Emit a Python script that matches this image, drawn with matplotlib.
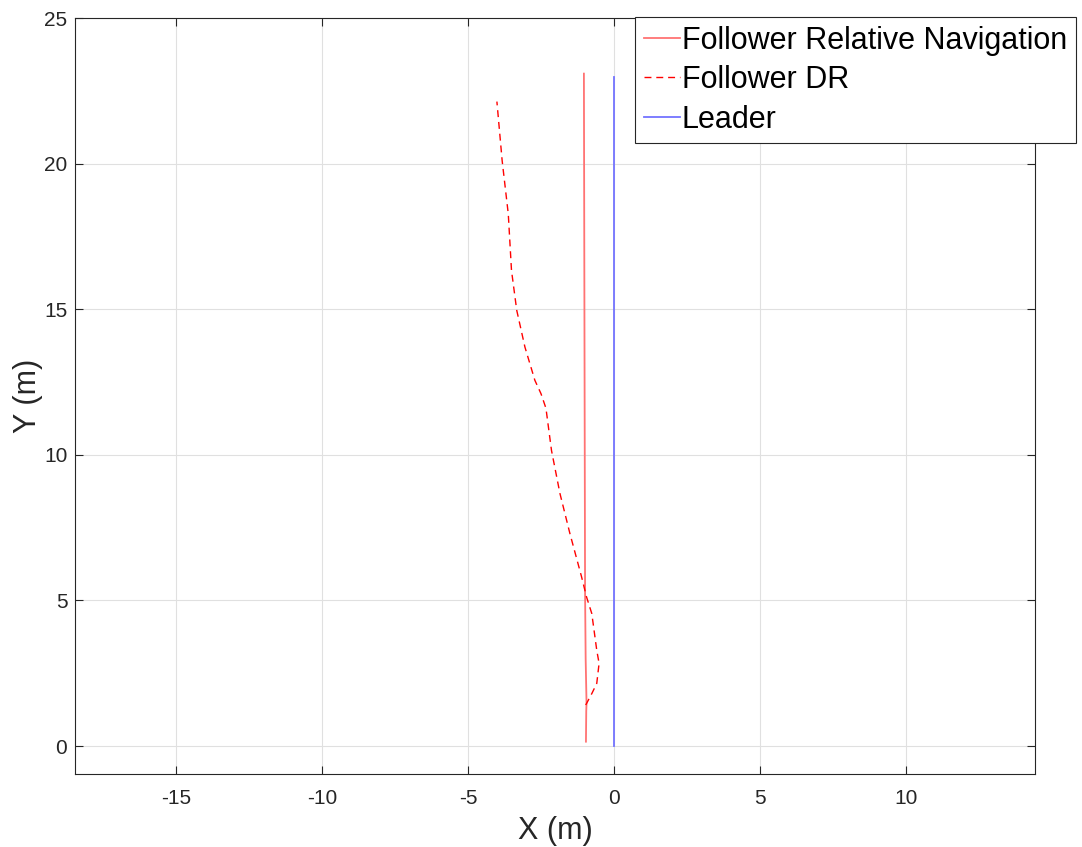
import matplotlib
matplotlib.use("Agg")
import matplotlib.pyplot as plt

plt.rcParams['font.family'] = ['Liberation Sans', 'DejaVu Sans']
plt.rcParams['axes.unicode_minus'] = False

# Follower Relative Navigation (solid light red)
rel_x = [-0.96, -0.95, -0.94, -0.97, -0.99, -1.01, -1.03]
rel_y = [0.15, 1.20, 1.46, 3.0, 5.24, 14.0, 23.09]

# Follower DR (dashed red)
dr_x = [-0.97, -0.94, -0.76, -0.59, -0.51, -0.59, -0.76, -0.94, -1.11, -1.51, -1.85,
        -2.14, -2.33, -2.50, -2.71, -3.05, -3.33, -3.51, -3.62, -3.83, -4.01]
dr_y = [1.41, 1.46, 1.80, 2.15, 2.84, 3.29, 4.55, 5.12, 5.81, 7.30, 8.67,
        10.15, 11.60, 12.10, 12.56, 13.70, 14.96, 16.33, 18.27, 20.10, 22.13]

# Leader (solid light blue)
lead_x = [0.0, 0.0]
lead_y = [0.0, 22.98]

xticks = [-15, -10, -5, 0, 5, 10]
yticks = [0, 5, 10, 15, 20, 25]

fig = plt.figure(figsize=(10.82, 8.47), dpi=100)
ax = fig.add_axes([75/1082, 1 - 774/847, (1035-75)/1082, (774-18)/847])

ax.plot(rel_x, rel_y, color=(1, 0.45, 0.45), lw=1.3, label='Follower Relative Navigation')
ax.plot(dr_x, dr_y, color=(1, 0, 0), lw=1.0, dashes=(5, 3.5), label='Follower DR')
ax.plot(lead_x, lead_y, color=(0.45, 0.45, 1), lw=1.3, label='Leader')

ax.set_xlim(-18.46, 14.42)
ax.set_ylim(-0.96, 25)
ax.set_xticks(xticks)
ax.set_yticks(yticks)
ax.grid(True, color='#e0e0e0', lw=0.8)
ax.set_axisbelow(True)
ax.tick_params(direction='in', top=True, right=True, labelsize=15, colors='#262626', length=6)
ax.tick_params(axis='x', pad=11.0)
ax.tick_params(axis='y', pad=5.5)
for s in ax.spines.values():
    s.set_color('#262626')
    s.set_linewidth(0.8)
ax.set_xlabel('X (m)', fontsize=22, color='#262626', labelpad=5.5)
ax.set_ylabel('Y (m)', fontsize=22, color='#262626', labelpad=0.5)

leg = fig.legend(loc='upper left', bbox_to_anchor=(635/1082, 1 - 17/847), fontsize=22,
                 frameon=True, fancybox=False, edgecolor='#262626', framealpha=1,
                 handlelength=1.2, handletextpad=0.05, labelspacing=0.31,
                 borderpad=0.28, borderaxespad=0)
leg.get_frame().set_linewidth(0.8)

fig.savefig('out.png', dpi=100)
